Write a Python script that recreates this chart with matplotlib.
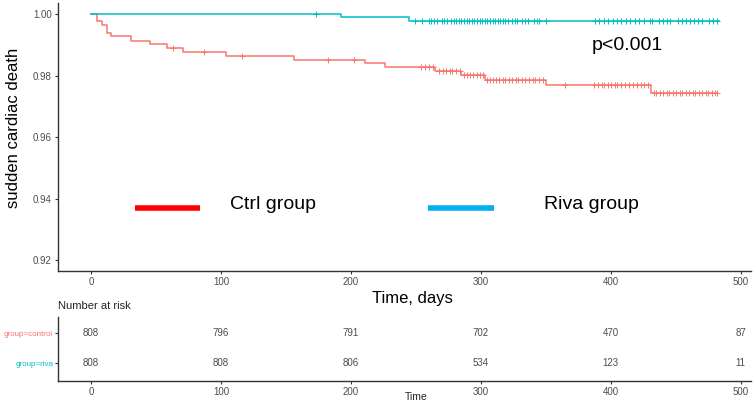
import matplotlib
matplotlib.use("Agg")
import matplotlib.pyplot as plt
import numpy as np

plt.rcParams['font.family'] = ['Liberation Sans', 'DejaVu Sans']

# Kaplan-Meier steps
ctrl_t = [0, 4.5, 8.5, 12, 15.5, 31, 45.5, 58.5, 71, 104, 156, 211, 226, 265, 285, 303, 350, 431, 482]
ctrl_s = [1.0, 0.9978, 0.9964, 0.9939, 0.9928, 0.9914, 0.9903, 0.9890, 0.9877, 0.9865, 0.9852,
          0.9841, 0.9827, 0.9816, 0.9802, 0.9787, 0.9768, 0.9743, 0.9743]
riva_t = [0, 192, 245, 483]
riva_s = [1.0, 0.9989, 0.9976, 0.9976]

# censoring ticks
ctrl_cens = [63, 87, 116, 182, 202, 254, 257, 260, 263, 268, 271, 273, 276, 278, 281, 284,
             287, 289, 292, 294, 297, 299, 302, 305, 307, 309, 312, 314, 317, 319, 322, 324,
             327, 329, 332, 334, 337, 340, 342, 345, 348, 365, 387, 390, 393, 395, 398, 400,
             403, 405, 408, 411, 414, 417, 420, 423, 426, 429, 433, 435, 438, 440, 443, 445,
             448, 450, 453, 455, 458, 460, 463, 465, 468, 470, 473, 475, 478, 480, 482]
riva_cens = [173, 249, 255, 260, 262, 264, 266, 270, 272, 274, 277, 279, 281, 283, 285, 287,
             289, 291, 293, 295, 297, 299, 301, 303, 305, 307, 309, 311, 313, 315, 317, 319,
             321, 324, 326, 328, 332, 334, 336, 341, 343, 345, 350, 388, 391, 395, 398, 402,
             405, 408, 412, 415, 419, 422, 426, 430, 432, 437, 440, 443, 446, 452, 455, 458,
             461, 464, 467, 470, 476, 479, 482]

# number at risk table
risk_times = [0, 100, 200, 300, 400, 500]
risk_ctrl = [808, 796, 791, 702, 470, 87]
risk_riva = [808, 808, 806, 534, 123, 11]
groups = ['group=control', 'group=riva']

red = '#F8766D'
cyan = '#00BFC4'
grey = '#4D4D4D'
xlim = (-25.5, 508)

def surv_at(ts, ss, x):
    idx = np.searchsorted(ts, x, side='right') - 1
    return np.array(ss)[idx]

fig = plt.figure(figsize=(7.54, 4.03), dpi=100)
ax = fig.add_axes([58/754, 1 - 271/403, 693/754, 268/403])

ax.step(ctrl_t, ctrl_s, where='post', color=red, lw=1.1)
ax.step(riva_t, riva_s, where='post', color=cyan, lw=1.1)
ax.plot(ctrl_cens, surv_at(ctrl_t, ctrl_s, ctrl_cens), ls='none', marker='+', ms=4, mew=0.7, color=red)
ax.plot(riva_cens, surv_at(riva_t, riva_s, riva_cens), ls='none', marker='+', ms=4, mew=0.7, color=cyan)

ax.set_xlim(*xlim)
ax.set_ylim(0.9165, 1.0036)
ax.set_xticks(risk_times)
ax.set_yticks([0.92, 0.94, 0.96, 0.98, 1.00])
ax.set_yticklabels(['0.92', '0.94', '0.96', '0.98', '1.00'])
for s in ['top', 'right']:
    ax.spines[s].set_visible(False)
for s in ['left', 'bottom']:
    ax.spines[s].set_color('#333333')
    ax.spines[s].set_linewidth(1.0)
ax.tick_params(labelsize=7, colors='#333333', labelcolor=grey, length=2.5, width=0.8, pad=2)
ax.set_ylabel('sudden cardiac death', fontsize=12)
ax.yaxis.set_label_coords(-0.053, 0.534)

# hand-made legend
ax.plot([34, 84], [0.9370, 0.9370], color='#FF0000', lw=4, solid_capstyle='butt')
ax.text(107, 0.9380, 'Ctrl group', fontsize=14, va='center', ha='left')
ax.plot([259, 310], [0.9370, 0.9370], color='#00B0F0', lw=4, solid_capstyle='butt')
ax.text(349, 0.9380, 'Riva group', fontsize=14, va='center', ha='left')
ax.text(385, 0.9898, 'p<0.001', fontsize=14, va='center', ha='left')

fig.text(412.5/754, 1 - 299/403, 'Time, days', fontsize=12, ha='center', va='center')
fig.text(58/754, 1 - 306/403, 'Number at risk', fontsize=8, ha='left', va='center', color='#222222')

# risk table
tb = fig.add_axes([58/754, 1 - 380.7/403, 693/754, 64/403])
for i, t in enumerate(risk_times):
    tb.text(t, 2, str(risk_ctrl[i]), fontsize=7, color=grey, ha='center', va='center')
    tb.text(t, 1, str(risk_riva[i]), fontsize=7, color=grey, ha='center', va='center')
tb.set_xlim(*xlim)
tb.set_ylim(0.43, 2.54)
tb.set_xticks(risk_times)
tb.set_yticks([2, 1])
tb.set_yticklabels(groups)
for s in ['top', 'right']:
    tb.spines[s].set_visible(False)
for s in ['left', 'bottom']:
    tb.spines[s].set_color('#333333')
    tb.spines[s].set_linewidth(1.0)
tb.tick_params(labelsize=7, colors='#333333', length=2.5, width=0.8, pad=2)
tb.tick_params(axis='x', labelcolor=grey)
tb.tick_params(axis='y', labelsize=5.8, pad=1)
tb.get_yticklabels()[0].set_color(red)
tb.get_yticklabels()[1].set_color(cyan)
fig.text(416/754, 1 - 397/403, 'Time', fontsize=7.5, ha='center', va='center', color='#222222')

fig.savefig('out.png', dpi=100)
